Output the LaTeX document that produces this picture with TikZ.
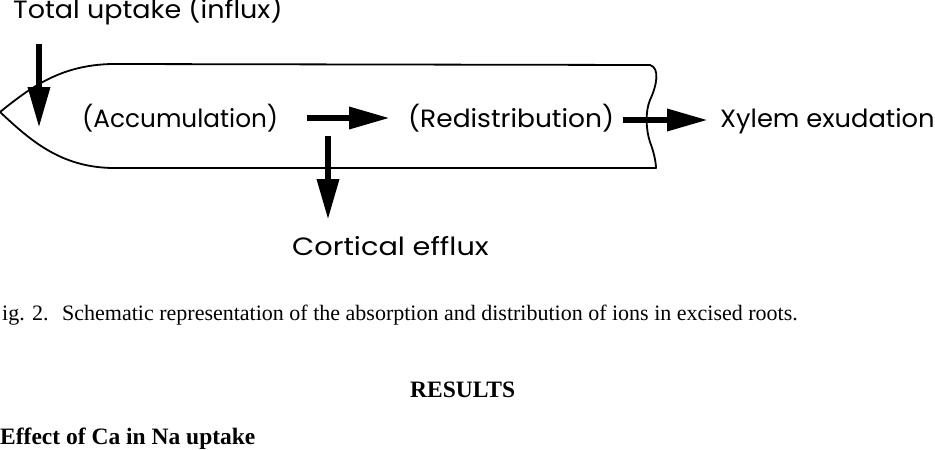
\documentclass[tikz,border=0pt]{standalone}
\usepackage{fontspec}
\setmainfont{Liberation Serif}
\newfontfamily\diagfont{Poppins}
\usetikzlibrary{arrows.meta}
\tikzset{
  lbl/.style={font=\diagfont\fontsize{25}{29}\selectfont, inner sep=0pt, anchor=base west},
  bigarrow/.style={line width=6.5pt, -{Triangle[length=41pt,width=21pt]}},
  rootline/.style={line width=1.8pt, line join=round, line cap=round},
  captext/.style={font=\fontsize{22}{26}\selectfont, inner sep=0pt, anchor=base west},
  headtext/.style={font=\bfseries\fontsize{23.5}{27}\selectfont, inner sep=0pt, anchor=base west}
}
\begin{document}
\begin{tikzpicture}[x=1pt,y=-1pt]
\useasboundingbox (0,0) rectangle (935,450);
% root outline
\draw[rootline] (0,112) .. controls (30,88) and (60,65) .. (112,64)
  -- (650,65) .. controls (660,68) and (657,85) .. (650,100)
  .. controls (645,112) and (646,130) .. (650,142)
  .. controls (655,155) and (656,165) .. (656,168)
  -- (112,168) .. controls (60,167) and (30,140) .. (0,112);
% labels
\node[lbl] (total) at (13,18) {\scalebox{1.08}[1]{Total uptake (influx)}};
\node[lbl] (acc) at (82,127) {\scalebox{0.99}[1]{(Accumulation)}};
\node[lbl] (red) at (408,127) {\scalebox{1.06}[1]{(Redistribution)}};
\node[lbl] (xyl) at (720,127) {\scalebox{1.03}[1]{Xylem exudation}};
\node[lbl] (cort) at (292,255) {\scalebox{1.15}[1]{Cortical efflux}};
% arrow ends
\coordinate (inA) at (39,44);
\coordinate (inB) at (39,128);
\coordinate (mA) at (307,118);
\coordinate (mB) at (390,118);
\coordinate (cA) at (328,136);
\coordinate (cB) at (328,220);
\coordinate (xA) at (623,120);
\coordinate (xB) at (708,120);
\draw[bigarrow] (inA) -- (inB);
\draw[bigarrow] (mA) -- (mB);
\draw[bigarrow] (cA) -- (cB);
\draw[bigarrow] (xA) -- (xB);
% caption and text
\node[captext] (fig) at (2,320) {ig. 2.};
\node[captext] (caption) at (62,320) {Schematic representation of the absorption and distribution of ions in excised roots.};
\node[headtext] (results) at (410,397) {RESULTS};
\node[headtext] (effect) at (0,444) {Effect of Ca in Na uptake};
\end{tikzpicture}
\end{document}
